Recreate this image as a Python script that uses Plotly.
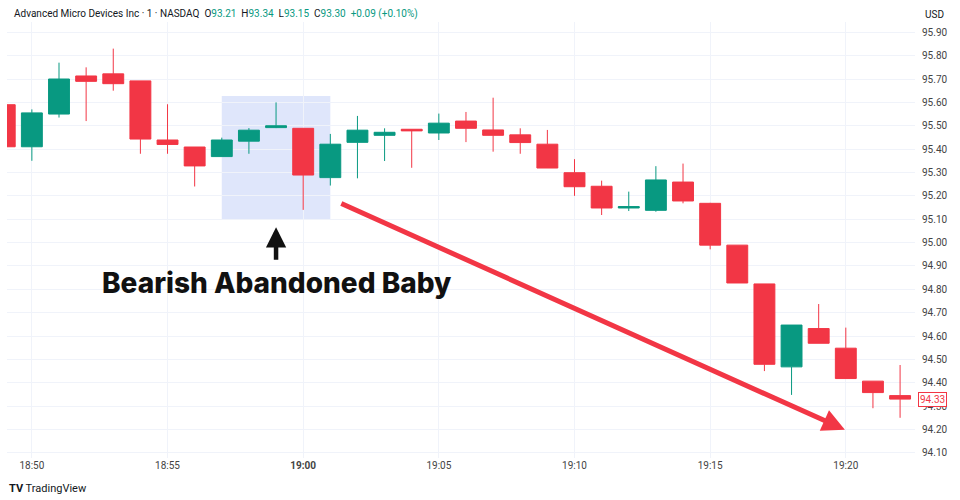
import plotly.graph_objects as go

# ---- data ----
times = ["18:49", "18:50", "18:51", "18:52", "18:53", "18:54", "18:55", "18:56", "18:57", "18:58",
         "18:59", "19:00", "19:01", "19:02", "19:03", "19:04", "19:05", "19:06", "19:07", "19:08",
         "19:09", "19:10", "19:11", "19:12", "19:13", "19:14", "19:15", "19:16", "19:17", "19:18",
         "19:19", "19:20", "19:21", "19:22"]
opens = [95.59, 95.41, 95.55, 95.713, 95.722, 95.692, 95.439, 95.409, 95.368, 95.434,
         95.492, 95.489, 95.278, 95.429, 95.459, 95.485, 95.469, 95.52, 95.482, 95.461,
         95.421, 95.299, 95.241, 95.148, 95.138, 95.259, 95.168, 94.989, 94.823, 94.468,
         94.632, 94.548, 94.407, 94.345]
highs = [95.59, 95.57, 95.77, 95.75, 95.83, 95.692, 95.592, 95.409, 95.449, 95.49,
         95.60, 95.489, 95.465, 95.542, 95.489, 95.485, 95.552, 95.559, 95.62, 95.489,
         95.482, 95.357, 95.265, 95.218, 95.327, 95.338, 95.17, 94.989, 94.823, 94.647,
         94.737, 94.636, 94.407, 94.476]
lows = [95.41, 95.35, 95.535, 95.52, 95.65, 95.38, 95.38, 95.24, 95.368, 95.38,
        95.49, 95.14, 95.244, 95.275, 95.349, 95.32, 95.439, 95.43, 95.389, 95.38,
        95.319, 95.20, 95.118, 95.135, 95.132, 95.168, 94.971, 94.827, 94.45, 94.348,
        94.569, 94.418, 94.291, 94.25]
closes = [95.41, 95.555, 95.70, 95.69, 95.68, 95.443, 95.42, 95.328, 95.439, 95.481,
          95.50, 95.289, 95.421, 95.481, 95.472, 95.478, 95.511, 95.489, 95.459, 95.428,
          95.319, 95.239, 95.148, 95.154, 95.268, 95.178, 94.989, 94.827, 94.479, 94.647,
          94.569, 94.418, 94.358, 94.33]
tick_times = ["18:50", "18:55", "19:00", "19:05", "19:10", "19:15", "19:20"]
tick_text = ["18:50", "18:55", "<b>19:00</b>", "19:05", "19:10", "19:15", "19:20"]
last_price = 94.33
pattern_label = "Bearish Abandoned Baby"
pattern_box = {"x0": "18:57", "x1": "19:01", "y0": 95.101, "y1": 95.627}
trend_arrow = {"x0": "19:01:21", "y0": 95.17, "x1": "19:19:58", "y1": 94.199}
label_pos = {"x": "18:59", "y": 94.827, "arrow_tip": 95.066}

DAY = "2024-01-02 "
def ts(t):
    return DAY + t

RED = "#f23645"
GREEN = "#089981"
GRID = "#f0f3fa"
TXT = "#131722"

fig = go.Figure()
fig.add_trace(go.Candlestick(
    x=[ts(t) for t in times], open=opens, high=highs, low=lows, close=closes,
    increasing=dict(line=dict(color=GREEN, width=1), fillcolor=GREEN),
    decreasing=dict(line=dict(color=RED, width=1), fillcolor=RED),
    whiskerwidth=0, showlegend=False, hoverinfo="skip",
))

# highlight box
fig.add_shape(type="rect", xref="x", yref="y",
              x0=ts(pattern_box["x0"]), x1=ts(pattern_box["x1"]),
              y0=pattern_box["y0"], y1=pattern_box["y1"],
              fillcolor="rgba(110,140,235,0.22)", line=dict(width=0), layer="below")

# red trend arrow
fig.add_annotation(x=ts(trend_arrow["x1"]), y=trend_arrow["y1"], xref="x", yref="y",
                   ax=ts(trend_arrow["x0"]), ay=trend_arrow["y0"], axref="x", ayref="y",
                   showarrow=True, arrowhead=2, arrowsize=0.9, arrowwidth=5,
                   arrowcolor=RED, text="")

# black up arrow
fig.add_annotation(x=ts(label_pos["x"]), y=label_pos["arrow_tip"], xref="x", yref="y",
                   ax=0, ay=34, showarrow=True, arrowhead=2, arrowsize=0.9,
                   arrowwidth=4.5, arrowcolor="#111111", text="")

# label
fig.add_annotation(x=ts(label_pos["x"]), y=label_pos["y"], xref="x", yref="y",
                   text=pattern_label, showarrow=False,
                   font=dict(family="Inter", size=28, color="#111111", weight=800))

# header
G = "<span style='color:#089981'>"
NB = "\u00a0"
hdr = ("Advanced Micro Devices Inc · 1 · NASDAQ" + NB * 2 +
       "O" + G + "93.21</span>" + NB * 2 +
       "H" + G + "93.34</span>" + NB * 2 +
       "L" + G + "93.15</span>" + NB * 2 +
       "C" + G + "93.30</span>" + NB * 2 +
       G + "+0.09 (+0.10%)</span>")
fig.add_annotation(xref="paper", yref="paper", x=0.0055, y=1, yshift=8,
                   xanchor="left", yanchor="middle", text=hdr, showarrow=False,
                   font=dict(family="Roboto", size=10, color=TXT))
fig.add_annotation(xref="paper", yref="paper", x=1, y=1, yshift=8, xshift=8,
                   xanchor="left", yanchor="middle", text="USD", showarrow=False,
                   font=dict(family="Roboto", size=10, color=TXT))

# last price label
fig.add_annotation(xref="paper", yref="y", x=1, y=last_price, xshift=3,
                   xanchor="left", yanchor="middle", text=f"{last_price:.2f}",
                   showarrow=False, bgcolor="white", bordercolor=RED, borderwidth=1,
                   borderpad=1, font=dict(family="Roboto", size=10, color=RED))

# TradingView mark
fig.add_annotation(xref="paper", yref="paper", x=0.0, y=0, yshift=-30, xshift=0,
                   xanchor="left", yanchor="middle",
                   text="<b>TV</b> TradingView", showarrow=False,
                   font=dict(family="Roboto", size=11, color=TXT))

fig.update_layout(
    width=960, height=500,
    margin=dict(l=7, r=45, t=22, b=42),
    paper_bgcolor="white", plot_bgcolor="white",
    boxgap=0.23, boxgroupgap=0,
    xaxis=dict(type="date", range=[ts("18:49:05"), ts("19:22:33")],
               tickvals=[ts(t) for t in tick_times], ticktext=tick_text,
               showgrid=True, gridcolor=GRID, gridwidth=1, zeroline=False,
               rangeslider=dict(visible=False), showline=False, ticks="",
               tickfont=dict(family="Roboto", size=10, color="#444")),
    yaxis=dict(side="right", range=[94.078, 95.944], dtick=0.1, tick0=94.0,
               tickformat=".2f", showgrid=True, gridcolor=GRID, zeroline=False,
               showline=False, ticks="", ticklabelstandoff=6,
               tickfont=dict(family="Roboto", size=10, color="#444")),
)

fig.write_html("out.html", config={"displayModeBar": False},
               post_script="document.body.style.margin='0px';document.body.style.overflow='hidden';")
